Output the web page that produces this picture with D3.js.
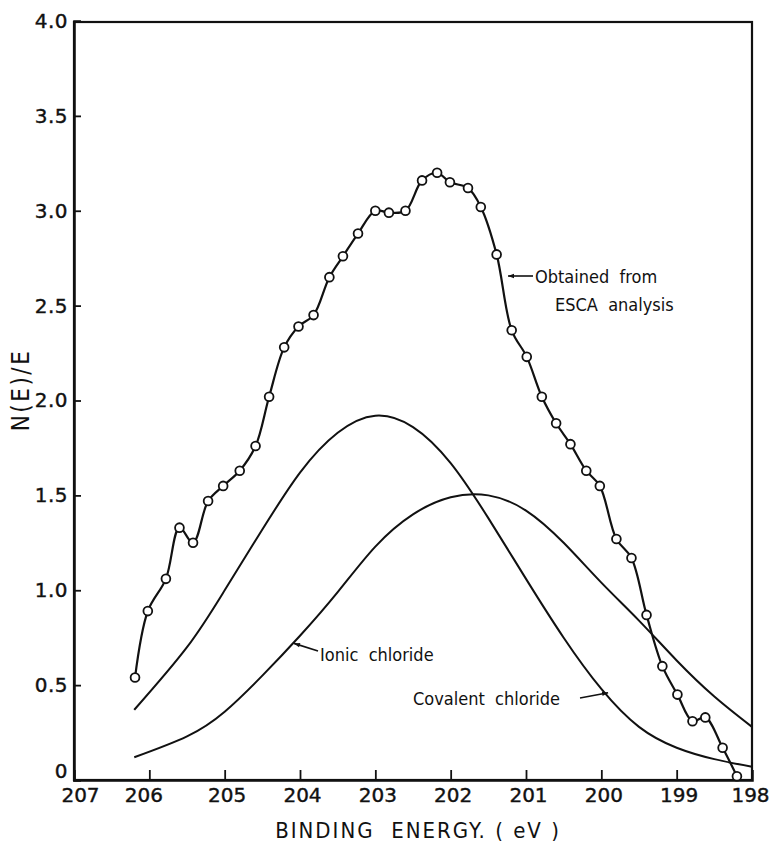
<!DOCTYPE html>
<html>
<head>
<meta charset="utf-8">
<script src="https://cdn.jsdelivr.net/npm/d3@7"></script>
<style>
  html, body { margin: 0; padding: 0; background: #fff; }
  svg { display: block; }
  text { white-space: pre; }
</style>
</head>
<body>
<svg id="chart" width="769" height="852"></svg>
<script>
// ---- data ----
const obtainedEnergy = [206.19, 206.02, 205.78, 205.60, 205.42, 205.22, 205.02, 204.80, 204.59, 204.41,
  204.21, 204.02, 203.82, 203.61, 203.43, 203.23, 203.00, 202.82, 202.60, 202.38,
  202.18, 202.01, 201.77, 201.60, 201.39, 201.19, 200.99, 200.79, 200.60, 200.41,
  200.20, 200.02, 199.80, 199.60, 199.40, 199.19, 198.99, 198.79, 198.62, 198.39, 198.20];
const obtainedValue = [0.54, 0.89, 1.06, 1.33, 1.25, 1.47, 1.55, 1.63, 1.76, 2.02,
  2.28, 2.39, 2.45, 2.65, 2.76, 2.88, 3.00, 2.99, 3.00, 3.16,
  3.20, 3.15, 3.12, 3.02, 2.77, 2.37, 2.23, 2.02, 1.88, 1.77,
  1.63, 1.55, 1.27, 1.17, 0.87, 0.60, 0.45, 0.31, 0.33, 0.17, 0.02];

const componentEnergy = [206.2, 205.5, 205.0, 204.5, 204.0, 203.5, 203.0, 202.5, 202.0, 201.5,
  201.0, 200.5, 200.0, 199.5, 199.0, 198.5, 198.0];
const covalentValue = [0.37, 0.70, 1.00, 1.32, 1.62, 1.83, 1.92, 1.86, 1.67, 1.38,
  1.06, 0.75, 0.48, 0.28, 0.17, 0.11, 0.07];
const ionicValue = [0.12, 0.23, 0.36, 0.55, 0.76, 0.99, 1.23, 1.40, 1.49, 1.50,
  1.42, 1.25, 1.04, 0.84, 0.63, 0.44, 0.28];

const xTicks = [207, 206, 205, 204, 203, 202, 201, 200, 199, 198];
const yTicks = [0, 0.5, 1.0, 1.5, 2.0, 2.5, 3.0, 3.5, 4.0];
const yTickLabels = ["0", "0.5", "1.0", "1.5", "2.0", "2.5", "3.0", "3.5", "4.0"];

(function () {
// ---- layout ----
const svg = d3.select("#chart");
const mLeft = 74, mRight = 752, mTop = 22, mBottom = 780;
const x = d3.scaleLinear().domain([207, 198]).range([mLeft, mRight]);
const y = d3.scaleLinear().domain([0, 4]).range([mBottom, 21]);
const ink = "#111";
const numFont = "'DejaVu Sans', sans-serif";
const annFont = "'DejaVu Sans Condensed', 'DejaVu Sans', sans-serif";

// frame
svg.append("rect")
  .attr("x", mLeft).attr("y", mTop)
  .attr("width", mRight - mLeft).attr("height", mBottom - mTop)
  .attr("fill", "none").attr("stroke", ink).attr("stroke-width", 2.2);

// x axis (ticks inside)
const xAxis = d3.axisBottom(x).tickValues(xTicks).tickSize(-10).tickPadding(8)
  .tickFormat(d3.format("d"));
const gx = svg.append("g").attr("transform", `translate(0,${mBottom})`).call(xAxis);
gx.select(".domain").attr("stroke", ink).attr("stroke-width", 2.5);
gx.selectAll(".tick line").attr("stroke", ink).attr("stroke-width", 1.8);
gx.selectAll(".tick").filter(d => d === 207 || d === 198).select("line").remove();
gx.selectAll(".tick text")
  .attr("font-family", numFont).attr("font-size", 20).attr("fill", ink)
  .attr("stroke", ink).attr("stroke-width", 0.4)
  .attr("dx", d => d === 207 ? 6 : (d === 206 ? -6 : (d === 198 ? -2 : 2)));

// y axis (ticks inside)
const yAxis = d3.axisLeft(y).tickValues(yTicks).tickSize(-7).tickPadding(6)
  .tickFormat((d, i) => yTickLabels[i]);
const gy = svg.append("g").attr("transform", `translate(${mLeft},0)`).call(yAxis);
gy.select(".domain").attr("stroke", ink).attr("stroke-width", 2.5);
gy.selectAll(".tick line").attr("stroke", ink).attr("stroke-width", 1.8);
gy.selectAll(".tick").filter(d => d === 0 || d === 4).select("line").remove();
gy.selectAll(".tick text")
  .attr("font-family", numFont).attr("font-size", 20).attr("fill", ink)
  .attr("stroke", ink).attr("stroke-width", 0.4)
  .attr("letter-spacing", 0.5)
  .attr("dy", d => d === 0 ? "-0.15em" : "0.32em");

// axis titles
svg.append("text")
  .attr("x", 418).attr("y", 838)
  .attr("text-anchor", "middle")
  .attr("font-family", annFont).attr("font-size", 22).attr("fill", ink)
  .attr("letter-spacing", 2)
  .text("BINDING  ENERGY. ( eV )");

svg.append("text")
  .attr("transform", "translate(29,390) rotate(-90)")
  .attr("text-anchor", "middle")
  .attr("font-family", annFont).attr("font-size", 24).attr("fill", ink)
  .attr("letter-spacing", 2.5)
  .text("N(E)/E");

// component curves
const compLine = vals => d3.line()
  .x((d, i) => x(componentEnergy[i]))
  .y(d => y(d))
  .curve(d3.curveNatural)(vals);

svg.append("path").attr("d", compLine(covalentValue))
  .attr("fill", "none").attr("stroke", ink).attr("stroke-width", 2);
svg.append("path").attr("d", compLine(ionicValue))
  .attr("fill", "none").attr("stroke", ink).attr("stroke-width", 2);

// obtained curve
const obtained = obtainedEnergy.map((e, i) => ({ e, v: obtainedValue[i] }));
svg.append("path")
  .attr("d", d3.line().x(d => x(d.e)).y(d => y(d.v)).curve(d3.curveCatmullRom.alpha(0.5))(obtained))
  .attr("fill", "none").attr("stroke", ink).attr("stroke-width", 2.2);
svg.selectAll("circle.pt").data(obtained).join("circle")
  .attr("class", "pt")
  .attr("cx", d => x(d.e)).attr("cy", d => y(d.v)).attr("r", 4.4)
  .attr("fill", "#fff").attr("stroke", ink).attr("stroke-width", 1.8);

// annotations
function arrow(x1, y1, x2, y2) {
  svg.append("line").attr("x1", x1).attr("y1", y1).attr("x2", x2).attr("y2", y2)
    .attr("stroke", ink).attr("stroke-width", 1.6);
  const ang = Math.atan2(y2 - y1, x2 - x1);
  const L = 6, W = 2.2;
  const bx = x2 - L * Math.cos(ang), by = y2 - L * Math.sin(ang);
  const px = -Math.sin(ang) * W, py = Math.cos(ang) * W;
  svg.append("path")
    .attr("d", `M${x2},${y2}L${bx + px},${by + py}L${bx - px},${by - py}Z`)
    .attr("fill", ink);
}
const ann = (tx, ty, s) => svg.append("text").attr("x", tx).attr("y", ty)
  .attr("font-family", annFont).attr("font-size", 18).attr("fill", ink).text(s);

arrow(533, 276, 508, 276);
ann(535, 283, "Obtained  from");
ann(555, 311, "ESCA  analysis");

arrow(318, 651, x(204.08), y(0.72));
ann(320, 661, "Ionic  chloride");

ann(413, 705, "Covalent  chloride");
arrow(580, 698, x(199.91), y(0.46));
})();
</script>
</body>
</html>
